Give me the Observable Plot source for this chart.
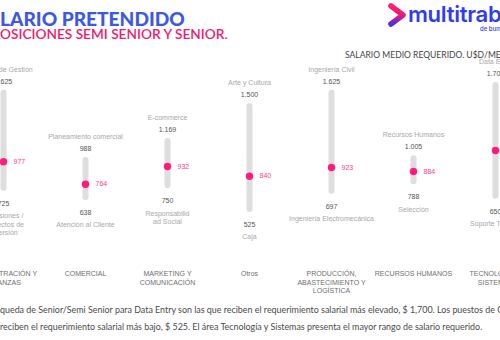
<!DOCTYPE html>
<html>
<head>
<meta charset="utf-8">
<script src="https://cdn.jsdelivr.net/npm/d3@7"></script>
<script src="https://cdn.jsdelivr.net/npm/@observablehq/plot@0.6"></script>
<style>
  html, body { margin: 0; padding: 0; background: #fff; overflow: hidden; }
  #wrap { position: relative; width: 500px; height: 340px; overflow: hidden; }
  #wrap > svg { position: absolute; left: 0; top: 0; }
</style>
</head>
<body>
<div id="wrap"></div>
<script>
// ---- data ----
const areas = ["ADMINISTRACIÓN Y\nFINANZAS", "COMERCIAL", "MARKETING Y\nCOMUNICACIÓN", "Otros", "PRODUCCIÓN,\nABASTECIMIENTO Y\nLOGÍSTICA", "RECURSOS HUMANOS", "TECNOLOGÍA Y\nSISTEMAS"];
const maxValues = [1625, 988, 1169, 1500, 1625, 1005, 1700];
const minValues = [725, 638, 750, 525, 697, 788, 650];
const medianValues = [977, 764, 932, 840, 923, 884, 1083];
const maxPositions = ["Control de Gestión", "Planeamiento comercial", "E-commerce", "Arte y Cultura", "Ingeniería Civil", "Recursos Humanos", "Data Entry"];
const minPositions = ["Inversiones /\nProyectos de\nInversión", "Atención al Cliente", "Responsabilid\nad Social", "Caja", "Ingeniería Electromecánica", "Selección", "Soporte Técnico"];

const titleText = ["SA", "LARIO PRETENDIDO"];
const subtitleText = ["P", "OSICIONES SEMI SENIOR Y SENIOR."];
const unitText = "SALARIO MEDIO REQUERIDO. U$D/MES";
const footerLine1 = ["Las bús", "queda de Senior/Semi Senior para Data Entry son las que reciben el requerimiento salarial más elevado, $ 1,700. Los puestos de Caja"];
const footerLine2 = "reciben el requerimiento salarial más bajo, $ 525.  El área Tecnología y Sistemas presenta el mayor rango de salario requerido.";

const data = areas.map((a, i) => ({
  area: a, max: maxValues[i], min: minValues[i], median: medianValues[i],
  maxLabel: maxPositions[i], minLabel: minPositions[i]
}));

const loc = d3.formatLocale({decimal: ",", thousands: ".", grouping: [3], currency: ["$", ""]});
const fmt = loc.format(",d");

const font = "'Liberation Sans', Arial, sans-serif";

const chart = Plot.plot({
  width: 500,
  height: 340,
  marginTop: 0, marginRight: 0, marginLeft: 0, marginBottom: 72,
  style: {fontFamily: font, fontSize: "7px", background: "transparent", overflow: "hidden"},
  x: {type: "point", domain: areas, range: [3, 495], padding: 0, axis: null},
  y: {domain: [500, 1700], range: [211.6, 84.9], axis: null},
  marks: [
    Plot.ruleX(data, {x: "area", y1: "min", y2: "max", stroke: "#dedede", strokeWidth: 6, strokeLinecap: "round"}),
    Plot.dot(data, {x: "area", y: "median", r: 3.7, fill: "#ff1c7c", stroke: "none"}),
    Plot.text(data, {x: "area", y: "median", text: d => fmt(d.median), dx: 10, textAnchor: "start", fill: "#ff3d8f"}),
    Plot.text(data, {x: "area", y: "max", text: d => fmt(d.max), dy: -12, fill: "#555"}),
    Plot.text(data, {x: "area", y: "max", text: "maxLabel", dy: -24, fill: "#a8a8a8"}),
    Plot.text(data, {x: "area", y: "min", text: d => fmt(d.min), dy: 15, fill: "#555"}),
    Plot.text(data, {x: "area", y: "min", text: "minLabel", dy: 24, lineAnchor: "top", lineHeight: 1.2, fill: "#a8a8a8"}),
    Plot.text(data, {x: "area", text: "area", frameAnchor: "bottom", lineAnchor: "top", dy: 1.5, lineHeight: 1.22, fill: "#6f6f6f"})
  ]
});
const wrap = document.getElementById("wrap");
wrap.appendChild(chart);

// ---- overlay texts (title, logo, unit, footer) ----
const ov = d3.select(wrap).append("svg").attr("width", 500).attr("height", 340);
const geo = "Lato, 'Open Sans', sans-serif";

function splitText(y, parts, size, weight, fill, family) {
  const a = ov.append("text").attr("x", 0).attr("y", y).attr("text-anchor", "end")
    .attr("font-family", family).attr("font-size", size).attr("font-weight", weight).attr("fill", fill).text(parts[0]);
  const b = ov.append("text").attr("x", 0).attr("y", y).attr("text-anchor", "start")
    .attr("font-family", family).attr("font-size", size).attr("font-weight", weight).attr("fill", fill).text(parts[1]);
  return [a, b];
}
function fit(sel, target) {
  const w = sel.node().getComputedTextLength();
  const fs = parseFloat(sel.attr("font-size"));
  return fs * target / w;
}
// title
let [ta, tb] = splitText(26, titleText, 19, 900, "#3d58e2", geo);
let fs = fit(tb, 185);
ta.attr("font-size", fs); tb.attr("font-size", fs);
// subtitle
let [sa, sb] = splitText(39, subtitleText, 11, 600, "#ef1a6e", geo);
let fs2 = fit(sb, 228);
sa.attr("font-size", fs2); sb.attr("font-size", fs2);

// logo
const defs = ov.append("defs");
const g = defs.append("linearGradient").attr("id", "lg").attr("x1", 0).attr("y1", 0).attr("x2", 0).attr("y2", 1);
g.append("stop").attr("offset", "0%").attr("stop-color", "#ff1f6e");
g.append("stop").attr("offset", "55%").attr("stop-color", "#e8187a");
g.append("stop").attr("offset", "100%").attr("stop-color", "#4b2fe0");
ov.append("path").attr("d", "M391,6 L403,15 L391,24").attr("fill", "none")
  .attr("stroke", "url(#lg)").attr("stroke-width", 5.5).attr("stroke-linecap", "round").attr("stroke-linejoin", "round");
const logo = ov.append("text").attr("x", 408).attr("y", 22).attr("font-family", "Inter, sans-serif").attr("font-weight", 600)
  .attr("font-size", 19).attr("fill", "#2f3cf0").attr("letter-spacing", -0.3).text("multitrab");
const lfs = fit(logo, 93);
logo.attr("font-size", lfs).text("multitrabajos");
ov.append("text").attr("x", 480).attr("y", 31).attr("font-family", "Inter, sans-serif").attr("font-weight", 500)
  .attr("font-size", 6).attr("fill", "#2f3cf0").text("de bumeran");

// unit label
const unit = ov.append("text").attr("x", 345).attr("y", 58).attr("font-family", geo).attr("font-size", 8.6)
  .attr("fill", "#444").text("SALARIO MEDIO REQUERIDO. U$D/ME");
const ufs = fit(unit, 156);
unit.attr("font-size", ufs).text(unitText);

// footer
const f2 = ov.append("text").attr("x", 0).attr("y", 329.5).attr("font-family", geo).attr("font-size", 9).attr("fill", "#4a4a4a").text(footerLine2);
const ffs = fit(f2, 483);
f2.attr("font-size", ffs);
splitText(312.5, footerLine1, ffs, 400, "#4a4a4a", geo);
</script>
</body>
</html>
